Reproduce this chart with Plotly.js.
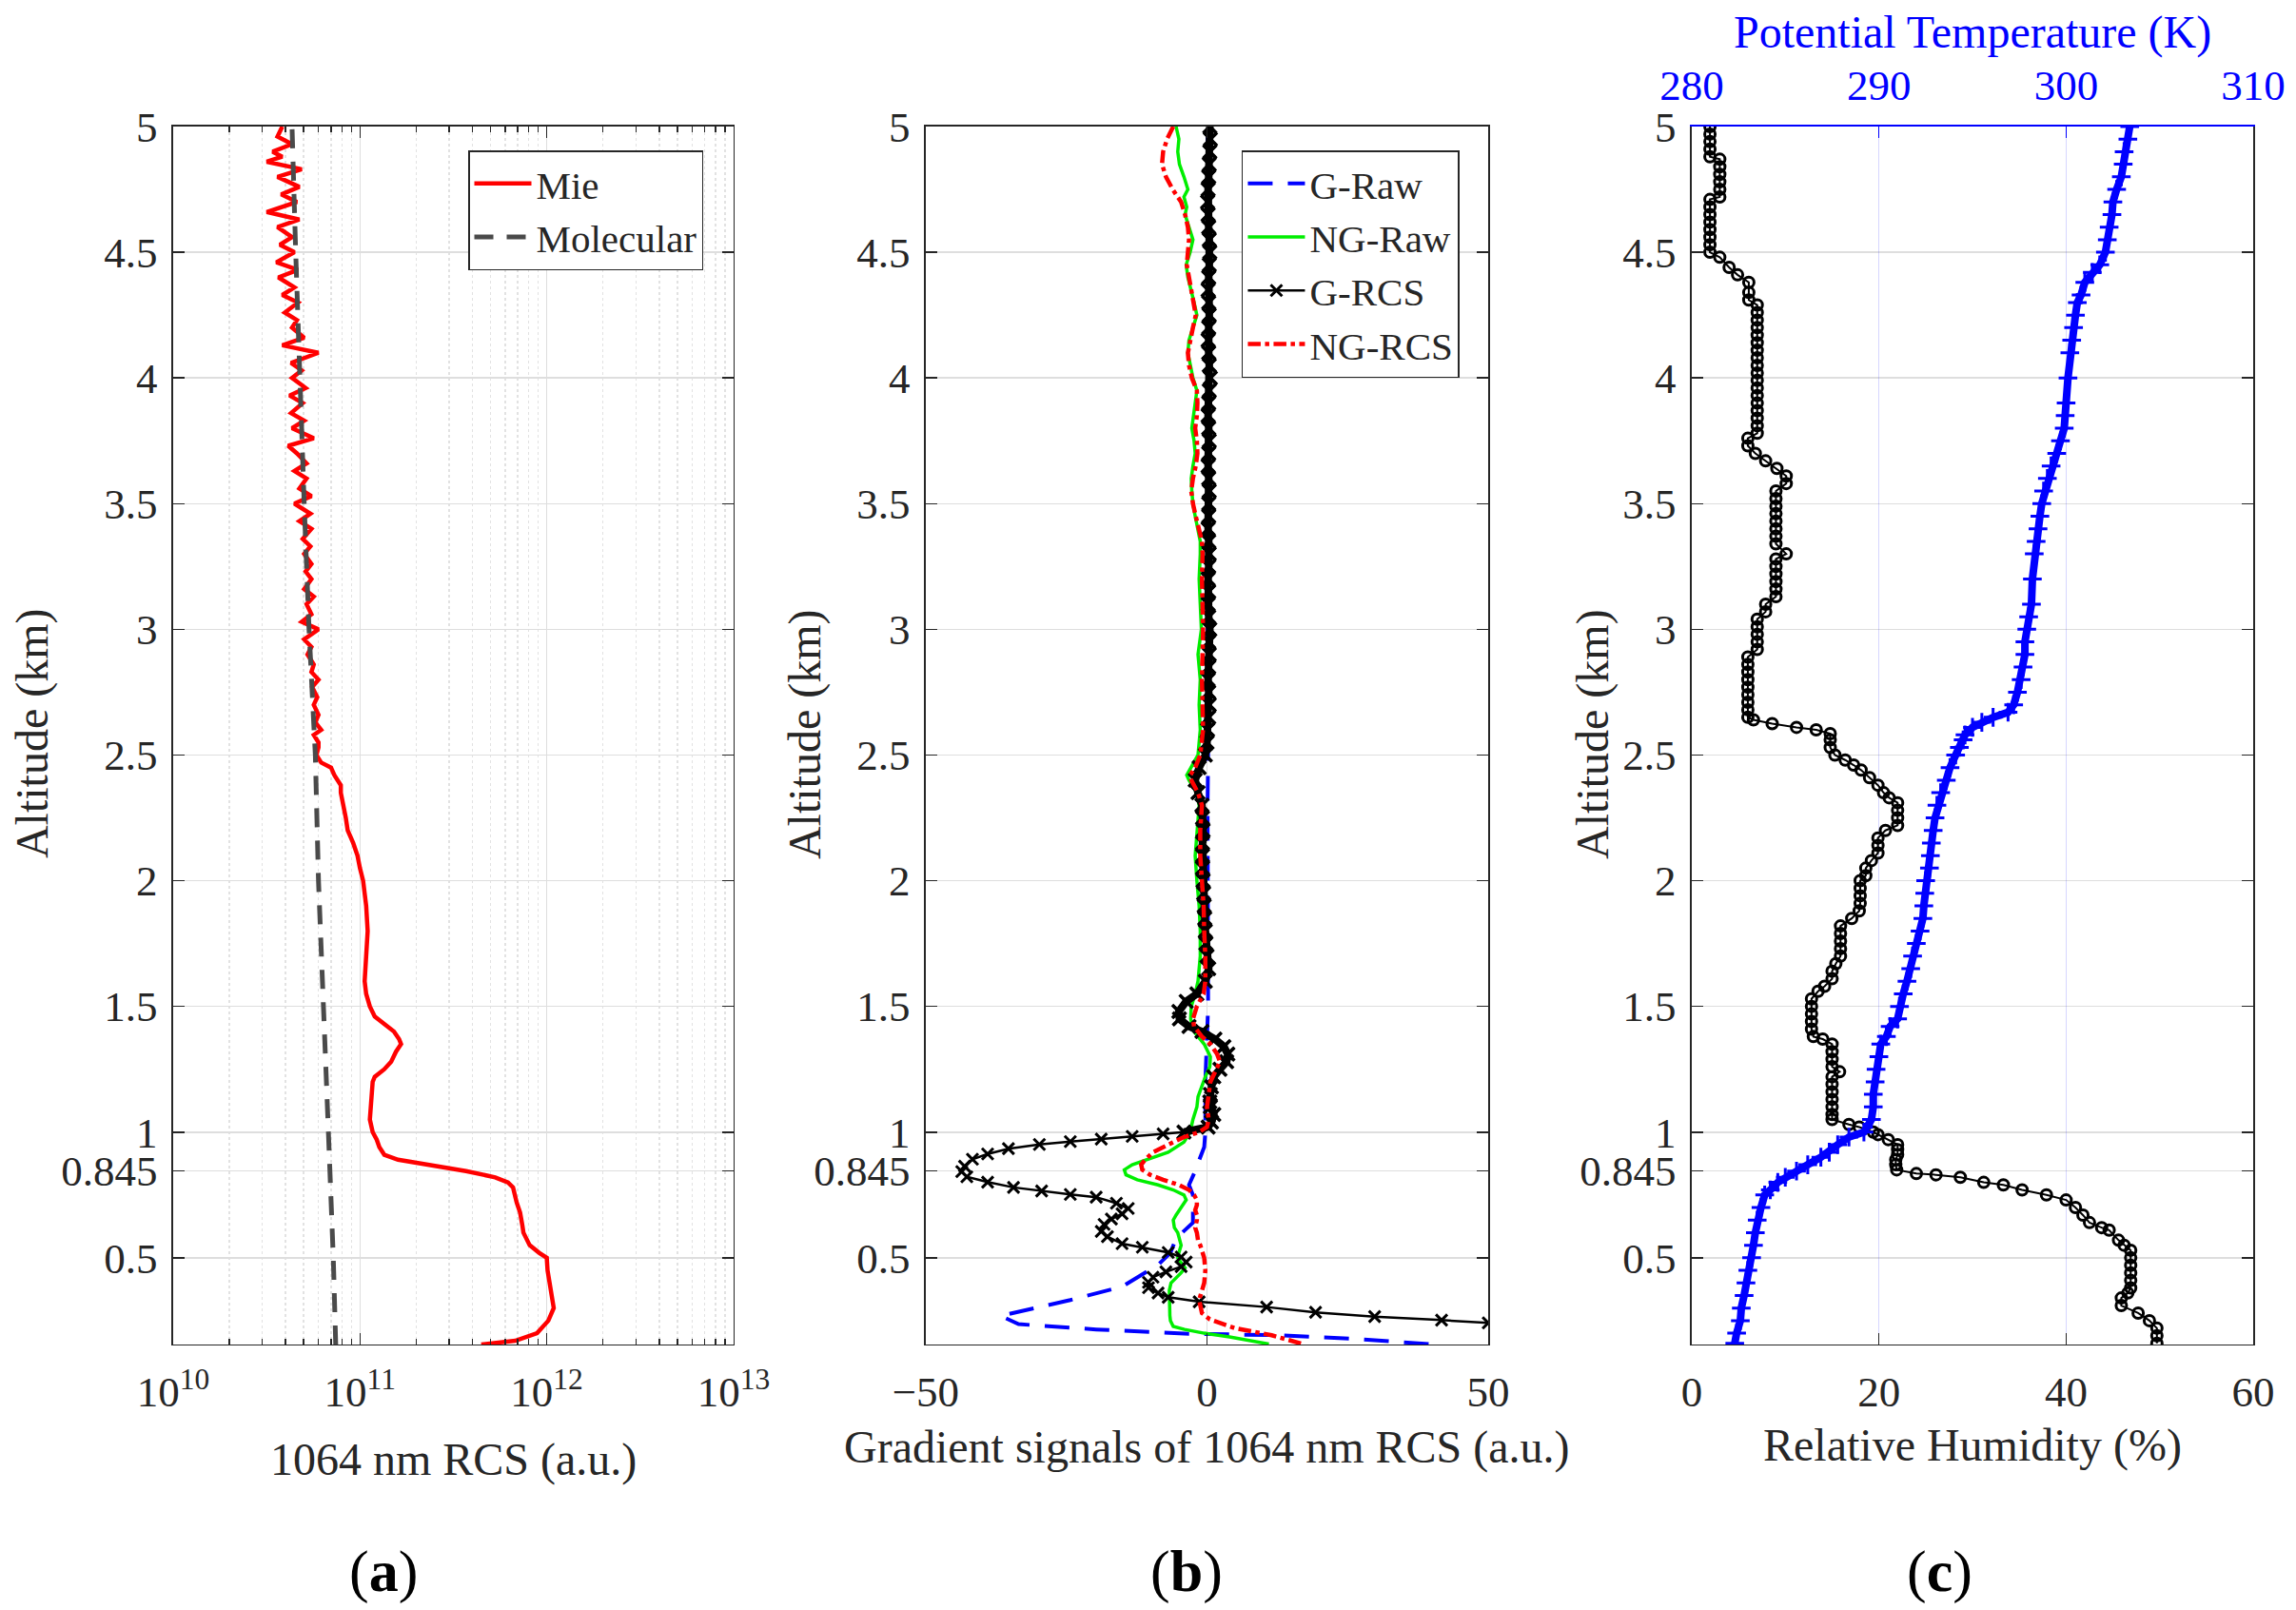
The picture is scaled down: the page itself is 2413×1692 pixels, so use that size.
<!DOCTYPE html>
<html>
<head>
<meta charset="utf-8">
<script src="https://cdn.plot.ly/plotly-3.0.1.min.js"></script>
<style>html,body{margin:0;padding:0;background:#fff;}#chart{width:2413px;height:1692px;}</style>
</head>
<body>
<div id="chart"></div>
<script>
// ---------- tick labels ----------
const altTickVals = [0.5, 0.845, 1, 1.5, 2, 2.5, 3, 3.5, 4, 4.5, 5];
const altTickText = ['0.5', '0.845', '1', '1.5', '2', '2.5', '3', '3.5', '4', '4.5', '5'];
const rcsTickVals = [1e10, 1e11, 1e12, 1e13];
const rcsTickText = ['10<sup>10</sup>', '10<sup>11</sup>', '10<sup>12</sup>', '10<sup>13</sup>'];
const rcsMinorTickVals = [2e10,3e10,4e10,5e10,6e10,7e10,8e10,9e10,
                          2e11,3e11,4e11,5e11,6e11,7e11,8e11,9e11,
                          2e12,3e12,4e12,5e12,6e12,7e12,8e12,9e12];
const gradTickVals = [-50, 0, 50];
const rhTickVals = [0, 20, 40, 60];
const ptTickVals = [280, 290, 300, 310];

// ---------- (a) [altitude km, RCS a.u.] ----------
const mieProfile = [
 [0.155,4.46e11],[0.17,6.78e11],[0.2,8.87e11],[0.25,1.02e12],[0.3,1.09e12],[0.35,1.06e12],[0.4,1.03e12],[0.45,1.01e12],
 [0.5,1.0e12],[0.52,9.1e11],[0.55,8.1e11],[0.6,7.5e11],[0.63,7.4e11],[0.68,7.2e11],[0.72,6.9e11],[0.78,6.6e11],
 [0.8,6.2e11],[0.82,5.3e11],[0.845,3.7e11],[0.87,2.3e11],[0.89,1.6e11],[0.91,1.35e11],[0.94,1.27e11],[0.97,1.23e11],
 [1.0,1.17e11],[1.05,1.13e11],[1.1,1.14e11],[1.15,1.15e11],[1.2,1.17e11],[1.22,1.2e11],[1.25,1.35e11],[1.28,1.47e11],
 [1.32,1.56e11],[1.35,1.66e11],[1.37,1.62e11],[1.4,1.52e11],[1.43,1.35e11],[1.46,1.2e11],[1.5,1.13e11],[1.55,1.08e11],
 [1.6,1.06e11],[1.7,1.08e11],[1.8,1.1e11],[1.9,1.08e11],[2.0,1.04e11],[2.05,1.0e11],[2.1,9.7e10],[2.15,9.2e10],
 [2.2,8.6e10],[2.25,8.4e10],[2.3,8.2e10],[2.35,7.9e10],[2.38,7.9e10],[2.42,7.3e10],[2.45,7.0e10],[2.47,6.2e10],
 [2.5,5.85e10],[2.53,6.0e10],[2.55,6.0e10],[2.58,5.66e10],[2.6,6.2e10],[2.63,5.77e10],[2.66,6.0e10],[2.7,5.66e10],
 [2.73,5.91e10],[2.77,5.55e10],[2.8,6.0e10],[2.83,5.5e10],[2.86,5.66e10],[2.9,5.24e10],[2.93,5.5e10],[2.96,5.03e10],
 [3.0,6.0e10],[3.03,4.88e10],[3.06,5.5e10],[3.1,5.18e10],[3.13,5.66e10],[3.16,5.03e10],[3.2,5.5e10],[3.23,5.12e10],
 [3.26,5.5e10],[3.3,5.03e10],[3.33,5.43e10],[3.36,4.94e10],[3.4,5.5e10],[3.43,4.74e10],[3.46,5.43e10],[3.5,4.46e10],
 [3.53,5.5e10],[3.56,4.74e10],[3.6,5.18e10],[3.63,4.46e10],[3.66,5.18e10],[3.7,4.6e10],[3.73,4.13e10],[3.76,5.66e10],
 [3.8,4.33e10],[3.83,5.03e10],[3.86,4.28e10],[3.9,4.94e10],[3.93,4.2e10],[3.96,5.12e10],[4.0,4.33e10],[4.03,4.88e10],
 [4.06,4.28e10],[4.1,6.0e10],[4.13,3.84e10],[4.16,5.03e10],[4.2,4.33e10],[4.23,4.6e10],[4.26,3.96e10],[4.3,4.66e10],
 [4.33,3.84e10],[4.36,4.46e10],[4.4,3.66e10],[4.43,4.66e10],[4.46,3.57e10],[4.5,4.46e10],[4.53,3.73e10],[4.56,4.33e10],
 [4.6,3.62e10],[4.63,4.74e10],[4.66,3.17e10],[4.7,4.6e10],[4.73,3.79e10],[4.76,4.74e10],[4.8,3.62e10],[4.83,4.88e10],
 [4.86,3.17e10],[4.88,3.84e10],[4.9,3.41e10],[4.93,4.33e10],[4.96,3.62e10],[5.0,3.84e10]
];
const molecularProfile = [
 [0.155,7.42e10],[0.5,7.2e10],[1.0,6.78e10],[1.5,6.39e10],[2.0,6.0e10],[2.5,5.77e10],
 [3.0,5.34e10],[3.5,5.03e10],[4.0,4.74e10],[4.5,4.53e10],[5.0,4.33e10]
];

// ---------- (b) [altitude km, gradient a.u.] ----------
const gRawProfile = [
 [0.157,39.4],[0.178,26],[0.192,12.4],[0.198,-3.2],[0.215,-19.7],[0.236,-33.5],[0.269,-36.7],[0.332,-24.3],
 [0.385,-15.1],[0.472,-8.7],[0.52,-6.5],[0.577,-5.5],[0.64,-2.5],[0.7,-2.5],[0.75,-2.5],[0.79,-3.2],
 [0.85,-2.0],[0.9,-1.2],[0.94,-0.5],[1.0,-0.3],[1.2,-0.3],[1.5,0.2],[2.0,0.1],[2.3,0.1],[2.5,0.2],
 [3.0,0.1],[4.0,0.2],[5.0,0.1]
];
const ngRawProfile = [
 [5.0,-5.5],[4.95,-5.0],[4.9,-5.2],[4.85,-4.9],[4.8,-4.1],[4.75,-3.4],[4.72,-4.1],[4.68,-3.6],[4.65,-3.9],[4.6,-3.2],
 [4.55,-2.5],[4.5,-3.0],[4.45,-3.7],[4.4,-3.4],[4.35,-2.8],[4.3,-2.3],[4.25,-1.8],[4.2,-2.5],[4.15,-3.2],[4.1,-3.4],
 [4.05,-3.0],[4.0,-2.5],[3.95,-1.8],[3.9,-2.1],[3.85,-2.5],[3.8,-2.7],[3.75,-2.3],[3.7,-2.1],[3.65,-2.5],[3.6,-2.8],
 [3.55,-2.7],[3.5,-2.5],[3.45,-2.1],[3.4,-1.6],[3.35,-1.2],[3.3,-1.2],[3.2,-1.4],[3.1,-1.2],[3.0,-1.0],[2.9,-1.6],
 [2.85,-1.4],[2.8,-1.2],[2.7,-1.4],[2.6,-1.2],[2.5,-1.6],[2.45,-2.8],[2.42,-3.6],[2.4,-3.2],[2.35,-1.8],[2.3,-1.4],
 [2.2,-1.8],[2.1,-2.1],[2.0,-1.8],[1.9,-1.4],[1.8,-1.2],[1.7,-1.2],[1.6,-1.6],[1.55,-2.1],[1.5,-2.8],[1.45,-2.9],
 [1.4,-2.3],[1.35,-0.5],[1.3,0.6],[1.26,0.5],[1.22,-0.3],[1.18,-0.9],[1.14,-1.6],[1.1,-1.8],[1.05,-2.5],[1.0,-3.0],
 [0.96,-4.1],[0.92,-6.9],[0.9,-9.6],[0.87,-13.3],[0.85,-14.7],[0.83,-14.4],[0.81,-12.4],[0.79,-8.7],[0.77,-6.0],[0.75,-4.1],
 [0.73,-3.7],[0.71,-4.3],[0.69,-5.0],[0.67,-5.5],[0.65,-6.0],[0.62,-5.8],[0.6,-5.2],[0.57,-4.9],[0.55,-4.6],[0.52,-5.0],
 [0.5,-5.2],[0.48,-4.6],[0.46,-3.9],[0.44,-4.6],[0.42,-5.5],[0.4,-6.4],[0.37,-6.7],[0.33,-6.7],[0.3,-6.7],[0.27,-6.6],
 [0.25,-6.5],[0.227,-6.0],[0.215,-4.0],[0.2,-0.5],[0.185,4.0],[0.17,8.0],[0.157,11.0]
];
const gRcsProfile = [
 [0.22,62],[0.241,50],[0.252,41.7],[0.266,29.8],[0.283,19.3],[0.304,10.6],[0.325,-1.4],[0.343,-6.9],[0.36,-8.7],[0.381,-10.4],
 [0.402,-10.4],[0.423,-9.6],[0.444,-7.3],[0.465,-4.6],[0.483,-3.7],[0.503,-4.6],[0.521,-6.9],[0.542,-11.5],[0.556,-15.1],[0.584,-17.7],
 [0.605,-18.8],[0.633,-18.3],[0.654,-17.0],[0.675,-15.1],[0.696,-14.0],[0.717,-16.1],[0.741,-19.7],[0.752,-24.3],[0.766,-29.4],[0.78,-34.4],
 [0.801,-39.0],[0.822,-42.7],[0.843,-43.6],[0.864,-43.1],[0.892,-41.7],[0.913,-39.0],[0.934,-35.3],[0.951,-29.8],[0.962,-24.3],[0.972,-18.8],
 [0.983,-13.3],[0.993,-7.8],[1.0,-4.1],[1.02,0.2],[1.04,0.8],[1.07,1.2],[1.1,0.6],[1.12,0.5],[1.15,0.6],[1.18,0.8],
 [1.22,1.2],[1.25,2.3],[1.28,3.5],[1.31,3.7],[1.34,3.0],[1.37,1.4],[1.4,-0.9],[1.42,-3.2],[1.45,-4.9],[1.48,-5.0],
 [1.52,-3.7],[1.55,-1.8],[1.6,-0.3],[1.65,0.3],[1.7,0.0],[1.75,-0.2],[1.8,-0.3],[1.85,-0.4],[1.9,-0.5],[1.95,-0.6],
 [2.0,-0.7],[2.05,-0.8],[2.1,-0.8],[2.15,-0.8],[2.2,-0.7],[2.25,-0.8],[2.3,-0.9],[2.35,-1.6],[2.4,-2.1],[2.45,-1.4],
 [2.5,-0.3],[2.55,0.0],[2.6,0.1],[2.65,0.3],[2.7,0.4],[2.75,0.3],[2.8,0.2],[2.85,0.3],[2.9,0.4],[2.95,0.3],
 [3.0,0.5],[3.05,0.3],[3.1,0.2],[3.15,0.3],[3.2,0.2],[3.25,0.3],[3.3,0.4],[3.35,0.3],[3.4,0.2],[3.45,0.3],
 [3.5,0.3],[3.55,0.4],[3.6,0.3],[3.65,0.2],[3.7,0.3],[3.75,0.4],[3.8,0.3],[3.85,0.2],[3.9,0.3],[3.95,0.4],
 [4.0,0.6],[4.05,0.4],[4.1,0.3],[4.15,0.2],[4.2,0.3],[4.25,0.4],[4.3,0.3],[4.35,0.2],[4.4,0.3],[4.45,0.4],
 [4.5,0.5],[4.55,0.4],[4.6,0.3],[4.65,0.2],[4.7,0.1],[4.75,0.2],[4.8,0.3],[4.85,0.4],[4.9,0.5],[4.95,0.6],[5.0,0.5]
];
const ngRcsProfile = [
 [5.0,-6.0],[4.95,-7.1],[4.9,-7.8],[4.85,-8.0],[4.8,-7.3],[4.75,-6.1],[4.7,-4.6],[4.65,-3.9],[4.6,-3.4],[4.55,-3.2],
 [4.5,-3.4],[4.45,-3.6],[4.4,-3.2],[4.35,-2.8],[4.3,-2.3],[4.25,-2.0],[4.2,-2.5],[4.15,-3.0],[4.1,-3.4],[4.05,-3.2],
 [4.0,-2.7],[3.95,-1.8],[3.9,-1.7],[3.85,-1.8],[3.8,-2.1],[3.75,-1.8],[3.7,-1.7],[3.65,-2.0],[3.6,-2.5],[3.55,-2.8],
 [3.5,-2.5],[3.45,-2.0],[3.4,-1.4],[3.35,-0.9],[3.3,-0.8],[3.2,-0.9],[3.0,-0.7],[2.8,-0.9],[2.6,-0.7],[2.5,-1.2],
 [2.45,-2.1],[2.42,-3.0],[2.4,-2.8],[2.35,-1.6],[2.3,-0.9],[2.2,-1.2],[2.1,-1.2],[2.0,-0.9],[1.9,-0.6],[1.8,-0.5],
 [1.7,-0.3],[1.6,-0.3],[1.55,-0.6],[1.5,-1.8],[1.45,-2.5],[1.42,-2.3],[1.38,-0.9],[1.35,0.6],[1.31,1.8],[1.28,2.3],
 [1.25,1.6],[1.2,0.6],[1.15,0.3],[1.1,0.0],[1.05,0.3],[1.02,0.0],[1.0,-1.4],[0.98,-4.1],[0.95,-6.9],[0.92,-9.6],
 [0.89,-11.0],[0.87,-11.7],[0.85,-11.5],[0.83,-10.1],[0.81,-7.8],[0.79,-5.0],[0.77,-3.2],[0.75,-2.3],[0.73,-1.8],[0.71,-1.8],
 [0.69,-2.1],[0.67,-1.8],[0.65,-1.8],[0.62,-2.1],[0.6,-1.8],[0.57,-1.6],[0.55,-1.2],[0.5,-0.5],[0.45,-0.3],[0.4,-0.5],
 [0.332,-1.4],[0.28,-0.9],[0.255,0.5],[0.22,5.0],[0.192,11.5],[0.157,17.0]
];

// ---------- (c) [altitude km, RH %] and [altitude km, potential temperature K] ----------
const rhProfile = [
 [5.0,1.95],[4.97,1.95],[4.94,1.95],[4.91,1.95],[4.88,1.95],[4.87,3.0],[4.84,3.0],[4.81,3.0],[4.78,3.0],[4.75,3.0],
 [4.72,3.0],[4.71,1.95],[4.68,1.95],[4.65,1.95],[4.62,1.95],[4.59,1.95],[4.56,1.95],[4.53,1.95],[4.5,1.95],[4.48,3.0],
 [4.44,4.0],[4.41,4.9],[4.38,6.1],[4.34,6.1],[4.31,6.1],[4.29,7.0],[4.26,7.0],[4.23,7.0],[4.2,7.0],[4.17,7.0],
 [4.14,7.0],[4.11,7.0],[4.08,7.0],[4.05,7.0],[4.02,7.0],[3.99,7.0],[3.96,7.0],[3.93,7.0],[3.9,7.0],[3.87,7.0],
 [3.84,7.0],[3.81,7.0],[3.78,7.0],[3.76,6.0],[3.73,6.0],[3.7,6.8],[3.67,7.9],[3.64,9.1],[3.61,10.1],[3.58,10.1],
 [3.55,9.0],[3.52,9.0],[3.49,9.0],[3.46,9.0],[3.43,9.0],[3.4,9.0],[3.37,9.0],[3.34,9.0],[3.3,10.1],[3.28,9.0],
 [3.25,9.0],[3.22,9.0],[3.19,9.0],[3.16,9.0],[3.13,9.0],[3.1,7.9],[3.07,7.9],[3.04,7.0],[3.01,7.0],[2.98,7.0],
 [2.95,7.0],[2.92,7.0],[2.89,6.0],[2.86,6.0],[2.83,6.0],[2.8,6.0],[2.77,6.0],[2.74,6.0],[2.71,6.0],[2.68,6.0],
 [2.65,6.0],[2.64,6.6],[2.625,8.6],[2.61,11.2],[2.6,13.3],[2.585,14.8],[2.56,14.8],[2.53,14.8],[2.5,15.3],[2.48,16.4],
 [2.46,17.3],[2.44,18.1],[2.41,19.0],[2.38,19.9],[2.35,20.5],[2.33,21.1],[2.31,22.0],[2.28,22.0],[2.25,22.0],[2.22,22.0],
 [2.2,20.7],[2.17,19.9],[2.14,19.9],[2.11,19.9],[2.08,19.2],[2.05,18.6],[2.02,18.6],[2.0,18.0],[1.97,18.0],[1.94,18.0],
 [1.91,18.0],[1.88,17.9],[1.85,17.1],[1.82,15.9],[1.79,15.9],[1.76,15.9],[1.73,15.9],[1.7,15.9],[1.67,15.4],[1.64,15.0],
 [1.61,15.0],[1.58,14.2],[1.56,13.5],[1.53,12.8],[1.5,12.8],[1.47,12.8],[1.44,12.8],[1.41,12.8],[1.38,13.0],[1.37,14.0],
 [1.35,15.0],[1.32,15.0],[1.29,15.0],[1.26,15.0],[1.24,15.8],[1.22,15.0],[1.19,15.0],[1.16,15.0],[1.13,15.0],[1.1,15.0],
 [1.07,15.0],[1.05,15.0],[1.03,16.8],[1.02,17.9],[1.0,19.4],[0.99,19.9],[0.97,21.0],[0.95,22.0],[0.93,22.0],[0.91,22.0],
 [0.89,21.8],[0.87,21.8],[0.85,21.9],[0.835,24.0],[0.83,26.1],[0.82,28.7],[0.8,31.2],[0.79,33.3],[0.77,35.3],[0.75,37.9],
 [0.73,40.0],[0.7,41.0],[0.67,41.8],[0.64,42.5],[0.62,43.8],[0.61,44.6],[0.57,45.6],[0.55,46.2],[0.53,46.9],[0.5,46.9],
 [0.47,46.9],[0.44,46.9],[0.41,46.9],[0.38,46.9],[0.36,46.6],[0.34,45.9],[0.31,45.9],[0.28,47.7],[0.25,48.9],[0.22,49.7],
 [0.19,49.7],[0.16,49.7]
];
const ptProfile = [
 [5.0,303.4],[4.95,303.3],[4.9,303.1],[4.85,303.05],[4.8,302.95],[4.75,302.7],[4.7,302.5],[4.65,302.45],[4.6,302.3],[4.55,302.2],
 [4.5,302.1],[4.45,301.8],[4.42,301.4],[4.38,301.0],[4.33,300.8],[4.3,300.6],[4.25,300.5],[4.2,300.4],[4.15,300.3],[4.1,300.2],
 [4.0,300.1],[3.9,300.0],[3.85,299.95],[3.8,299.9],[3.75,299.7],[3.7,299.5],[3.65,299.2],[3.6,299.0],[3.55,298.8],[3.5,298.7],
 [3.45,298.6],[3.4,298.5],[3.35,298.4],[3.3,298.3],[3.2,298.2],[3.1,298.15],[3.05,298.0],[3.0,297.9],[2.95,297.8],[2.9,297.8],
 [2.85,297.7],[2.8,297.6],[2.75,297.4],[2.7,297.2],[2.67,296.9],[2.65,296.1],[2.63,295.5],[2.61,295.0],[2.58,294.6],[2.56,294.5],
 [2.53,294.3],[2.5,294.1],[2.45,293.8],[2.4,293.6],[2.35,293.3],[2.3,293.1],[2.25,293.0],[2.2,292.9],[2.15,292.8],[2.1,292.75],
 [2.05,292.7],[2.0,292.5],[1.95,292.45],[1.9,292.4],[1.85,292.35],[1.8,292.2],[1.75,292.0],[1.7,291.8],[1.65,291.7],[1.6,291.5],
 [1.55,291.3],[1.5,291.1],[1.45,291.0],[1.42,290.6],[1.38,290.4],[1.35,290.1],[1.3,290.0],[1.25,289.85],[1.2,289.8],[1.15,289.7],
 [1.1,289.7],[1.05,289.6],[1.0,289.2],[0.98,288.4],[0.95,287.8],[0.92,287.35],[0.9,286.9],[0.87,286.2],[0.845,285.6],[0.82,285.0],
 [0.8,284.6],[0.77,284.2],[0.75,283.9],[0.7,283.7],[0.65,283.5],[0.6,283.4],[0.55,283.3],[0.5,283.2],[0.45,283.0],[0.4,282.9],
 [0.35,282.8],[0.3,282.65],[0.25,282.6],[0.2,282.4],[0.16,282.3]
];

// ---------- styling ----------
const FONT = '"Liberation Serif", "Times New Roman", serif';
const INK = '#262626';
const GRID = '#dedede';
const yDom = [0.1649, 0.9214];
const xs = p => p.map(d => d[1]);
const ys = p => p.map(d => d[0]);
// the G-RCS profile is densely sampled above ~1 km (markers merge into a thick band)
const gRcsDense = gRcsProfile.filter(d => d[0] >= 1.0);

function baseAxis(extra) {
  return Object.assign({
    showline: true, linecolor: INK, linewidth: 1.5, mirror: 'ticks',
    ticks: 'inside', ticklen: 12, tickwidth: 1.5, tickcolor: INK,
    tickfont: {family: FONT, size: 45, color: INK},
    showgrid: true, gridcolor: GRID, gridwidth: 1.5,
    zeroline: false, automargin: false, fixedrange: true
  }, extra);
}
function altAxis(anchor) {
  return baseAxis({
    anchor: anchor, domain: yDom, range: [0.155, 5],
    tickmode: 'array', tickvals: altTickVals, ticktext: altTickText,
    ticklabelstandoff: 6
  });
}

const traces = [
  {x: xs(mieProfile), y: ys(mieProfile), xaxis: 'x', yaxis: 'y', mode: 'lines', name: 'Mie',
   line: {color: '#ff0000', width: 4.5}, legend: 'legend'},
  {x: xs(molecularProfile), y: ys(molecularProfile), xaxis: 'x', yaxis: 'y', mode: 'lines', name: 'Molecular',
   line: {color: '#4a4a4a', width: 5, dash: '20px,14px'}, legend: 'legend'},

  {x: xs(gRawProfile), y: ys(gRawProfile), xaxis: 'x2', yaxis: 'y2', mode: 'lines', name: 'G-Raw',
   line: {color: '#0000ff', width: 4, dash: '26px,16px'}, legend: 'legend2'},
  {x: xs(ngRawProfile), y: ys(ngRawProfile), xaxis: 'x2', yaxis: 'y2', mode: 'lines', name: 'NG-Raw',
   line: {color: '#00ee00', width: 3.5}, legend: 'legend2'},
  {x: xs(gRcsDense), y: ys(gRcsDense), xaxis: 'x2', yaxis: 'y2', mode: 'lines+markers', name: 'G-RCS',
   line: {color: '#000000', width: 8}, showlegend: false,
   marker: {symbol: 'x-thin', size: 14, color: '#000', line: {color: '#000', width: 3.5}}, legend: 'legend2'},
  {x: xs(gRcsProfile), y: ys(gRcsProfile), xaxis: 'x2', yaxis: 'y2', mode: 'lines+markers', name: 'G-RCS',
   line: {color: '#000000', width: 2.5},
   marker: {symbol: 'x-thin', size: 12, color: '#000', line: {color: '#000', width: 3}}, legend: 'legend2'},
  {x: xs(ngRcsProfile), y: ys(ngRcsProfile), xaxis: 'x2', yaxis: 'y2', mode: 'lines', name: 'NG-RCS',
   line: {color: '#ff0000', width: 4.5, dash: 'dashdot'}, legend: 'legend2'},

  {x: xs(rhProfile), y: ys(rhProfile), xaxis: 'x3', yaxis: 'y3', mode: 'lines+markers', name: 'RH',
   line: {color: '#000', width: 2}, showlegend: false,
   marker: {symbol: 'circle-open', size: 11, color: '#000', line: {color: '#000', width: 3}}},
  {x: xs(ptProfile), y: ys(ptProfile), xaxis: 'x4', yaxis: 'y3', mode: 'lines+markers', name: 'PT',
   line: {color: '#0000ff', width: 8}, showlegend: false,
   marker: {symbol: 'cross-thin', size: 14, color: '#0000ff', line: {color: '#0000ff', width: 3}}}
];

const legendStyle = {
  font: {family: FONT, size: 41, color: INK}, bgcolor: '#ffffff',
  bordercolor: INK, borderwidth: 1.5, xanchor: 'left', yanchor: 'top',
  tracegroupgap: 0, itemwidth: 60
};

function ann(text, x, y, size, extra) {
  return Object.assign({text: text, x: x, y: y, xref: 'paper', yref: 'paper', showarrow: false,
    xanchor: 'center', yanchor: 'middle', font: {family: FONT, size: size, color: INK}}, extra || {});
}

const layout = {
  width: 2413, height: 1692,
  margin: {l: 0, r: 0, t: 0, b: 0},
  paper_bgcolor: '#ffffff', plot_bgcolor: '#ffffff',
  font: {family: FONT, color: INK},
  xaxis: baseAxis({
    anchor: 'y', domain: [0.0754, 0.3195], type: 'log', range: [10, 13],
    tickmode: 'array', tickvals: rcsTickVals, ticktext: rcsTickText, ticklabelstandoff: 10,
    minor: {tickmode: 'array', tickvals: rcsMinorTickVals, showgrid: true, gridcolor: '#e2e2e2',
            griddash: 'dot', gridwidth: 1.5, ticks: 'inside', ticklen: 6, tickcolor: INK}
  }),
  yaxis: altAxis('x'),
  xaxis2: baseAxis({
    anchor: 'y2', domain: [0.4032, 0.6482], range: [-50, 50],
    tickmode: 'array', tickvals: gradTickVals, ticklabelstandoff: 10
  }),
  yaxis2: altAxis('x2'),
  xaxis3: baseAxis({
    anchor: 'y3', domain: [0.7368, 0.9814], range: [0, 60], mirror: true, showgrid: false,
    tickmode: 'array', tickvals: rhTickVals, ticklabelstandoff: 10
  }),
  xaxis4: baseAxis({
    overlaying: 'x3', anchor: 'y3', side: 'top', range: [280, 310], mirror: false,
    tickmode: 'array', tickvals: ptTickVals, ticklabelstandoff: 8,
    linecolor: '#0000ff', tickcolor: '#0000ff', gridcolor: 'rgba(0,0,255,0.16)',
    tickfont: {family: FONT, size: 45, color: '#0000ff'}
  }),
  yaxis3: altAxis('x3'),
  legend: Object.assign({}, legendStyle, {x: 0.2039, y: 0.9066}),
  legend2: Object.assign({}, legendStyle, {x: 0.5408, y: 0.9066}),
  annotations: [
    ann('Altitude (km)', 0.0141, 0.5443, 48, {textangle: -90}),
    ann('Altitude (km)', 0.3506, 0.5443, 48, {textangle: -90}),
    ann('Altitude (km)', 0.6937, 0.5443, 48, {textangle: -90}),
    ann('1064 nm RCS (a.u.)', 0.1975, 0.0934, 48),
    ann('Gradient signals of 1064 nm RCS (a.u.)', 0.5257, 0.1010, 48),
    ann('Relative Humidity (%)', 0.8591, 0.1020, 48),
    ann('Potential Temperature (K)', 0.8591, 0.9799, 48, {font: {family: FONT, size: 48, color: '#0000ff'}}),
    ann('(<b>a</b>)', 0.1670, 0.0242, 62, {font: {family: FONT, size: 62, color: '#000'}}),
    ann('(<b>b</b>)', 0.5168, 0.0242, 62, {font: {family: FONT, size: 62, color: '#000'}}),
    ann('(<b>c</b>)', 0.8450, 0.0242, 62, {font: {family: FONT, size: 62, color: '#000'}})
  ]
};

Plotly.newPlot('chart', traces, layout, {displayModeBar: false, staticPlot: true});
</script>
</body>
</html>
